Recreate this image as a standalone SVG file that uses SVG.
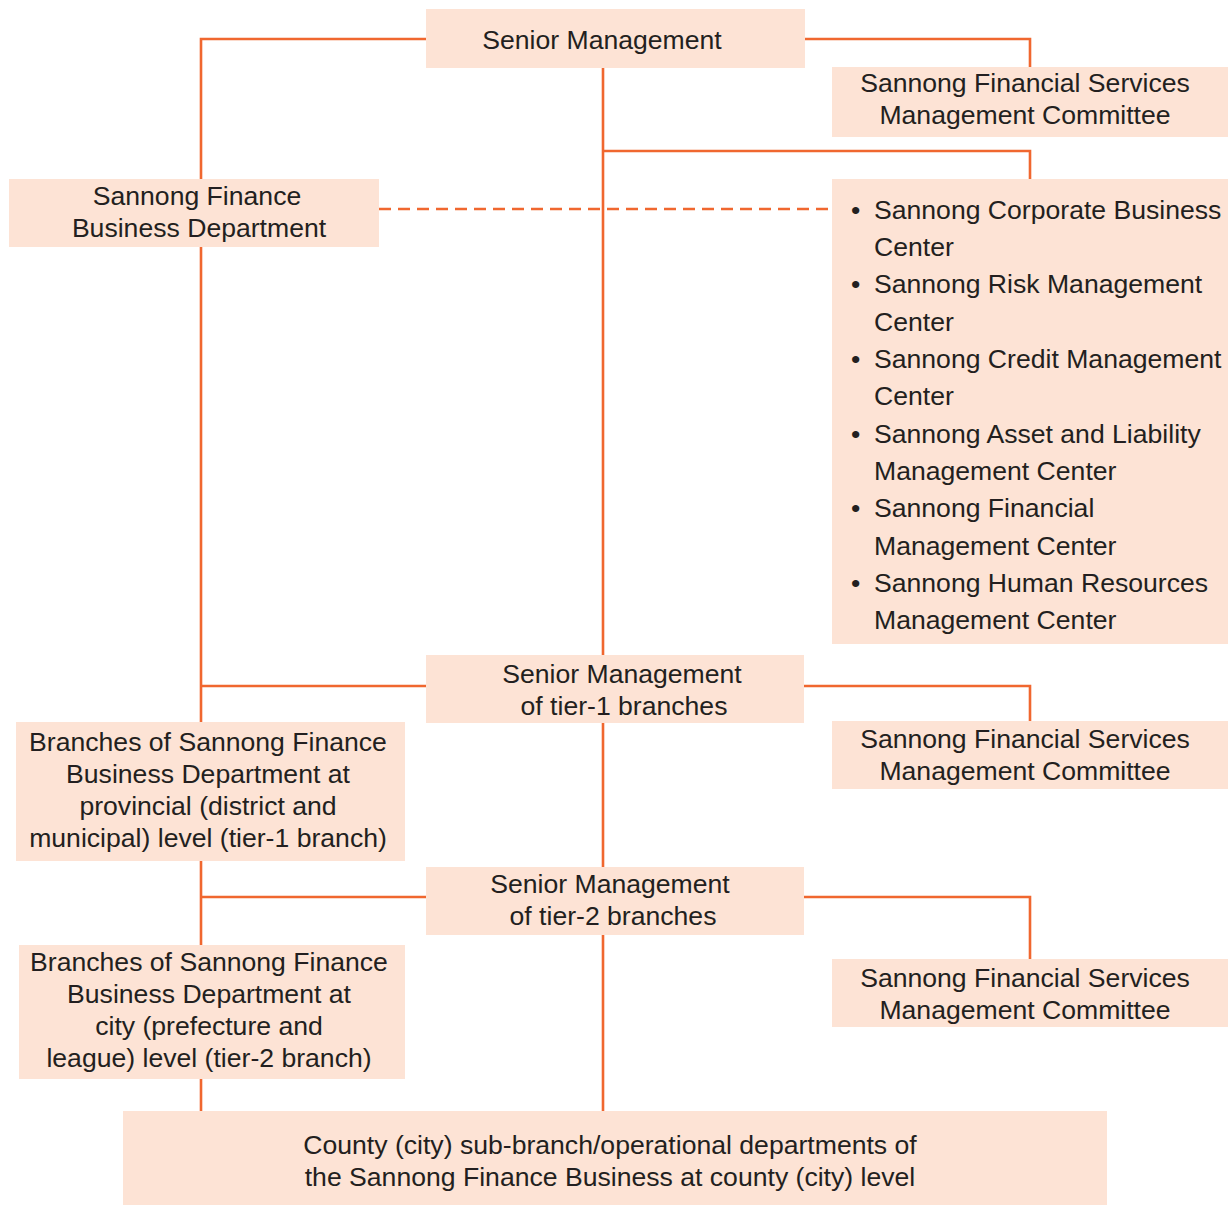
<svg xmlns="http://www.w3.org/2000/svg" width="1231" height="1206" viewBox="0 0 1231 1206">
<style>
.box{fill:#fde3d5}
.t{font-family:"Liberation Sans",Arial,sans-serif;font-size:26.6px;fill:#231f20}
.c{text-anchor:middle}
.ln{fill:none;stroke:#f0672f;stroke-width:2.6}
.dash{stroke-dasharray:12 7}
</style>
<rect width="1231" height="1206" fill="#ffffff"/>
<g id="connectors">
<path class="ln" d="M426 39 H201 V179"/>
<path class="ln" d="M805 39 H1030 V67"/>
<path class="ln" d="M603 68 V655"/>
<path class="ln" d="M603 151 H1030 V179"/>
<path class="ln dash" d="M379 209 H832"/>
<path class="ln" d="M201 247 V722"/>
<path class="ln" d="M201 686 H426"/>
<path class="ln" d="M804 686 H1030 V721"/>
<path class="ln" d="M603 723 V867"/>
<path class="ln" d="M201 861 V945"/>
<path class="ln" d="M201 897 H426"/>
<path class="ln" d="M804 897 H1030 V959"/>
<path class="ln" d="M603 935 V1111"/>
<path class="ln" d="M201 1079 V1111"/>
</g>
<g id="senior-management">
<rect class="box" x="426" y="9" width="379" height="59"/>
<text class="t c" x="602" y="49">Senior Management</text>
</g>
<g id="committee-1">
<rect class="box" x="832" y="67" width="396" height="70"/>
<text class="t c" x="1025" y="92">Sannong Financial Services</text>
<text class="t c" x="1025" y="124">Management Committee</text>
</g>
<g id="sannong-finance-dept">
<rect class="box" x="9" y="179" width="370" height="68"/>
<text class="t c" x="197" y="205">Sannong Finance</text>
<text class="t c" x="199" y="237">Business Department</text>
</g>
<g id="centers">
<rect class="box" x="832" y="179" width="396" height="465"/>
<g class="t">
<text x="851" y="219">•</text><text x="874" y="219">Sannong Corporate Business</text>
<text x="874" y="256">Center</text>
<text x="851" y="293">•</text><text x="874" y="293">Sannong Risk Management</text>
<text x="874" y="331">Center</text>
<text x="851" y="368">•</text><text x="874" y="368">Sannong Credit Management</text>
<text x="874" y="405">Center</text>
<text x="851" y="443">•</text><text x="874" y="443">Sannong Asset and Liability</text>
<text x="874" y="480">Management Center</text>
<text x="851" y="517">•</text><text x="874" y="517">Sannong Financial</text>
<text x="874" y="555">Management Center</text>
<text x="851" y="592">•</text><text x="874" y="592">Sannong Human Resources</text>
<text x="874" y="629">Management Center</text>
</g>
</g>
<g id="senior-tier1">
<rect class="box" x="426" y="655" width="378" height="68"/>
<text class="t c" x="622" y="683">Senior Management</text>
<text class="t c" x="624" y="715">of tier-1 branches</text>
</g>
<g id="committee-2">
<rect class="box" x="832" y="721" width="396" height="68"/>
<text class="t c" x="1025" y="748">Sannong Financial Services</text>
<text class="t c" x="1025" y="780">Management Committee</text>
</g>
<g id="branches-tier1">
<rect class="box" x="16" y="722" width="389" height="139"/>
<text class="t c" x="208" y="751">Branches of Sannong Finance</text>
<text class="t c" x="208" y="783">Business Department at</text>
<text class="t c" x="208" y="815">provincial (district and</text>
<text class="t c" x="208" y="847">municipal) level (tier-1 branch)</text>
</g>
<g id="senior-tier2">
<rect class="box" x="426" y="867" width="378" height="68"/>
<text class="t c" x="610" y="893">Senior Management</text>
<text class="t c" x="613" y="925">of tier-2 branches</text>
</g>
<g id="committee-3">
<rect class="box" x="832" y="959" width="396" height="68"/>
<text class="t c" x="1025" y="987">Sannong Financial Services</text>
<text class="t c" x="1025" y="1019">Management Committee</text>
</g>
<g id="branches-tier2">
<rect class="box" x="19" y="945" width="386" height="134"/>
<text class="t c" x="209" y="971">Branches of Sannong Finance</text>
<text class="t c" x="209" y="1003">Business Department at</text>
<text class="t c" x="209" y="1035">city (prefecture and</text>
<text class="t c" x="209" y="1067">league) level (tier-2 branch)</text>
</g>
<g id="county">
<rect class="box" x="123" y="1111" width="984" height="94"/>
<text class="t c" x="610" y="1154">County (city) sub-branch/operational departments of</text>
<text class="t c" x="610" y="1186">the Sannong Finance Business at county (city) level</text>
</g>
</svg>
